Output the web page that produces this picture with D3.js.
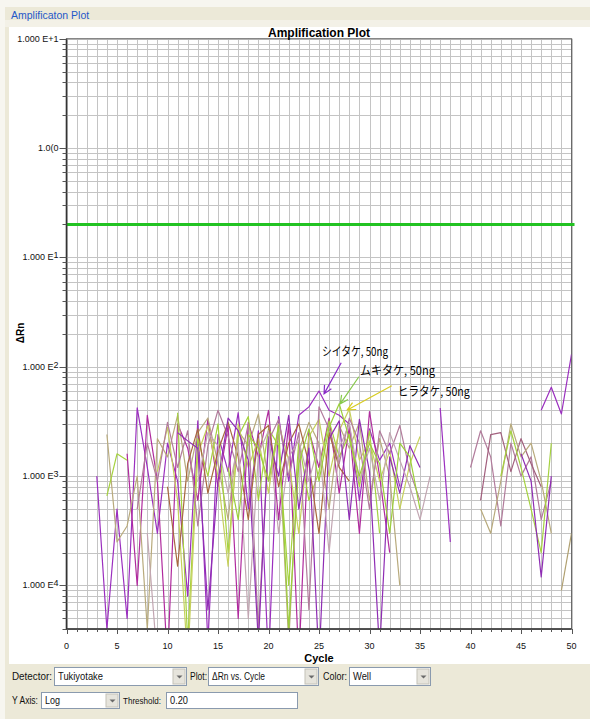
<!DOCTYPE html>
<html>
<head>
<meta charset="utf-8">
<script src="https://cdn.jsdelivr.net/npm/d3@7"></script>
<style>
	body { margin: 0; background: #fff; }
	svg { display: block; font-family: "Liberation Sans", Arial, sans-serif; }
</style>
</head>
<body>
<svg id="chart" width="590" height="719"></svg>
<script>
// Tick labels as the instrument software printed them
	var yTickValues = [10, 1, 0.1, 0.01, 0.001, 0.0001];
	var yTickMantissa = ['1.000 E+1', '1.0(0', '1.000 E', '1.000 E', '1.000 E', '1.000 E'];
	var yTickExponent = ['', '', '1', '2', '3', '4'];
	var cycleLabels = [0, 5, 10, 15, 20, 25, 30, 35, 40, 45, 50];
	var threshold = 0.20;

// Delta Rn per well, in units of 1e-3, starting at the given cycle (null = no point)
	var UNIT = 1e-3;
	var wellA = [1.0, 0.04, 0.5, 0.05, 4.2, 1.2, 0.3, 2.0, 0.9, 0.08, 3.2, 0.03, 2.4, 1.1, 3.8, 0.5, 2.6, 0.02, 3.5, 0.9, 3.6, 4.3, 6.0, 4.0, 3.6, 3.0, 0.6, 2.7, 1.4, 2.0, 0.8];
	var wellB = [1.6, 0.1, 3.6, 0.9, 0.02, 3.0, 1.8, 0.6, 3.3, 0.8, 2.9, 0.05, 3.1, 1.5, 4.0, 0.4, 3.0, 0.02, 2.6, 1.2, 3.4, 0.7, 2.8, 0.3, 3.9, 1.0, 0.2];
	var wellC = [2.4, 0.25, 0.35, 1.0, 0.04, 2.2, 1.5, 3.6, 0.9, 2.5, 3.4, 1.3, 0.4, 2.6, 1.9, 3.7, 0.9, 2.4, 0.03, 1.7, 3.1, 2.0, 0.5, 2.9, 1.8, 3.1, 0.6, 2.2, 1.0, 0.1];
	var wellD = [0.66, 1.6, 1.4, null, null, null, null, 3.8, 0.03, 2.2, 1.0, 3.0, 0.2, 2.3, 3.5, 0.6, 2.7, 1.9, 0.1, 2.1, 0.6, 1.1, 3.2, 1.5, 2.4, 0.8, 2.6, 0.3];
	var wellE = [1.1, 2.8, 0.6, 0.02, 1.6, 2.9, 1.0, 0.15, 3.0, 1.2, 2.2, 0.7, 3.0, 1.4, 0.3, 2.3, 3.3, 1.0, 2.6, 4.1, 1.4, 2.1, 0.9, 1.7, 0.5, 1.3, 2.3];
	var wellF = [0.5, 2.0, 0.9, 3.1, 1.2, 2.6, 0.35, 1.9, 4.0, 2.3, 1.1, 3.0, 0.04, 2.1, 3.3, 1.0, 2.5, 0.06, 4.3, 2.7, 1.3, 3.4, 2.0, 0.5, 2.6, 1.6, 2.9, 1.1, 0.6];
	var wellG = [0.8, 0.15, 1.3, 2.7, 0.7, 1.7, 3.1, 1.5, 0.4, 2.4, 2.9, 0.8, 2.0, 3.0, 1.3, 0.3, 2.5, 1.2, 0.9];
	var wellH = [2.5, 2.1, 1.8, 0.06, 0.9, 3.4, 2.6, 1.4, 0.03, 2.3, 1.0, 3.6, 0.5, 1.8, 0.02, 2.2, 3.2, 0.4, 3.3, 1.1, 0.025, 1.5, 0.7, 1.9, 1.2];
	var wellI = [0.3, 0.02, null, null, null, 0.9, 2.5, 1.9, 0.7, 2.0, 0.05, 1.6, 2.6, 0.3, 1.5, 2.1, 0.9, 2.0, 0.2, 1.8, 3.0, 0.9, 1.8, 0.6, 2.5, 1.4, 0.8, 0.4, 1.0];
	var wellJ = [1.2, 0.4, 2.4, 1.8, 0.9, 2.9, 0.04, 1.3, 2.7, 0.9, 2.8, 4.6, 2.2, 1.0, 2.0, 1.3, 0.3, 2.0, 1.5, 0.5];
	var wellK = [4.2, 0.25];
	var wellR1 = [1.2, 2.6, 1.5, 0.35, 2.0, 1.0, 1.5, 0.4, 0.9];
	var wellR2 = [0.6, 2.4, 2.5, 1.1, 2.2, 1.3, 0.8];
	var wellR3 = [0.5, 0.3, 0.9, 3.0, 1.5, 2.0, 0.9, 0.3];
	var wellR4 = [1.0, 2.6, 1.2, 0.5, 0.2, 2.0];
	var wellR5 = [1.6, 0.9, 0.12, 1.0];
	var wellR6 = [4.0, 6.5, 3.7, 13.0];
	var wellR7 = [0.09, 0.3];

	var wellStarts = [3, 6, 4, 4, 9, 7, 10, 11, 8, 16, 37, 40, 41, 41, 43, 45, 47, 49];
	var wellColors = ['#9b2fbf', '#b02a9e', '#b8aa7c', '#a5d23f', '#c6d05c', '#b27c9c', '#a8683f', '#8f2db4', '#c2a6b2',
		'#9ccf3a', '#9b2fbf', '#b27c9c', '#a2607e', '#b8aa7c', '#a5d23f', '#8f2db4', '#9b2fbf', '#b0a070'];
	var wellValues = [wellA, wellB, wellC, wellD, wellE, wellF, wellG, wellH, wellI, wellJ, wellK,
		wellR1, wellR2, wellR3, wellR4, wellR5, wellR6, wellR7];

// Sample callouts (text anchor and arrow, in cycle / milli-Rn)
	var noteTexts = ['シイタケ, 50ng', 'ムキタケ, 50ng', 'ヒラタケ, 50ng'];
	var noteColors = ['#8a2cc8', '#86c94a', '#d8cc20'];
	var noteWidths = [66, 75, 72];
	var noteAt = [[25.3, 13.7], [29.05, 9.2], [32.8, 5.9]];
	var arrowFrom = [[27.2, 10.9], [28.95, 8.1], [32.2, 6.7]];
	var arrowTo = [[25.5, 5.65], [27.1, 4.58], [27.8, 4.03]];

	var svg = d3.select('#chart');

// Window chrome
	svg.append('rect').attr('width', 590).attr('height', 719).attr('fill', '#ece9d8');
	svg.append('rect').attr('width', 590).attr('height', 7).attr('fill', '#f7f6f0');
	svg.append('rect').attr('width', 5).attr('height', 719).attr('fill', '#f7f6f0');
	svg.append('rect').attr('x', 5).attr('y', 20).attr('width', 585).attr('height', 7).attr('fill', '#f3f1e7');
	svg.append('text').attr('x', 11).attr('y', 18.5).attr('font-size', 10.5).attr('fill', '#2458c8').text('Amplificaton Plot');
	svg.append('rect').attr('x', 9).attr('y', 27).attr('width', 581).attr('height', 637).attr('fill', '#fff');

// Scales
	var x = d3.scaleLinear().domain([0, 50]).range([66.5, 571.5]);
	var y = d3.scaleLog().domain([4e-5, 10]).range([629, 38.7]);

// Grid
	var grid = svg.append('g').attr('stroke', '#c4c4c4').attr('stroke-width', 1);
	grid.selectAll('line.h')
	.data(y.ticks())
	.join('line')
		.attr('class', 'h')
		.attr('x1', x(0)).attr('x2', x(50))
		.attr('y1', d => Math.round(y(d)) + 0.5).attr('y2', d => Math.round(y(d)) + 0.5);
	grid.selectAll('line.v')
	.data(x.ticks(50))
	.join('line')
		.attr('class', 'v')
		.attr('x1', d => Math.round(x(d)) + 0.5).attr('x2', d => Math.round(x(d)) + 0.5)
		.attr('y1', y.range()[1]).attr('y2', y.range()[0]);

// Frame
	svg.append('rect')
		.attr('x', x(0)).attr('y', y.range()[1])
		.attr('width', x(50) - x(0)).attr('height', y.range()[0] - y.range()[1])
		.attr('fill', 'none').attr('stroke', '#6a6a6a').attr('stroke-width', 1);

// Wells
	svg.append('clipPath').attr('id', 'plotClip')
		.append('rect')
		.attr('x', x(0)).attr('y', y.range()[1])
		.attr('width', x(50) - x(0)).attr('height', y.range()[0] - y.range()[1]);

	var wells = wellValues.map((vals, i) => ({
		color: wellColors[i],
		points: vals.map((v, j) => ({ cycle: wellStarts[i] + j, value: v === null ? null : v * UNIT }))
	}));

	var line = d3.line()
		.defined(d => d.value !== null)
		.x(d => x(d.cycle))
		.y(d => y(d.value));

	svg.append('g').attr('clip-path', 'url(#plotClip)')
	.selectAll('path')
	.data(wells)
	.join('path')
		.attr('fill', 'none')
		.attr('stroke', d => d.color)
		.attr('stroke-width', 1.2)
		.attr('stroke-linejoin', 'round')
		.attr('d', d => line(d.points));

// Threshold
	svg.append('line')
		.attr('x1', x(0)).attr('x2', x(50) + 3)
		.attr('y1', y(threshold)).attr('y2', y(threshold))
		.attr('stroke', '#22c322').attr('stroke-width', 3);

// Axes lines
	svg.append('line').attr('x1', x(0)).attr('x2', x(0)).attr('y1', y.range()[1]).attr('y2', y.range()[0] + 1)
		.attr('stroke', '#333').attr('stroke-width', 1.6);
	svg.append('line').attr('x1', x(0)).attr('x2', x(50)).attr('y1', y.range()[0]).attr('y2', y.range()[0])
		.attr('stroke', '#333').attr('stroke-width', 1.6);

// Y ticks and labels
	svg.append('g').attr('stroke', '#555').selectAll('line')
	.data(y.ticks())
	.join('line')
		.attr('x1', d => yTickValues.indexOf(d) >= 0 ? x(0) - 7 : x(0) - 4).attr('x2', x(0))
		.attr('y1', d => Math.round(y(d)) + 0.5).attr('y2', d => Math.round(y(d)) + 0.5);

	var yLabels = svg.append('g').attr('font-size', 9).attr('fill', '#111').attr('text-anchor', 'end')
	.selectAll('text')
	.data(yTickValues)
	.join('text')
		.attr('x', x(0) - 8)
		.attr('y', d => y(d) + 3);
	yLabels.append('tspan').text((d, i) => yTickMantissa[i]);
	yLabels.append('tspan').attr('dy', -2).text((d, i) => yTickExponent[i]);

// X ticks and labels
	svg.append('g').attr('stroke', '#555').selectAll('line')
	.data(x.ticks(50))
	.join('line')
		.attr('x1', d => Math.round(x(d)) + 0.5).attr('x2', d => Math.round(x(d)) + 0.5)
		.attr('y1', y.range()[0]).attr('y2', d => y.range()[0] + (d % 5 === 0 ? 5 : 3));

	svg.append('g').attr('font-size', 9).attr('fill', '#111').attr('text-anchor', 'middle')
	.selectAll('text')
	.data(cycleLabels)
	.join('text')
		.attr('x', d => x(d))
		.attr('y', 649)
		.text(d => d);

// Titles
	svg.append('text').attr('x', (x(0) + x(50)) / 2).attr('y', 36.5)
		.attr('text-anchor', 'middle').attr('font-size', 12).attr('font-weight', 'bold').text('Amplification Plot');
	svg.append('text').attr('x', (x(0) + x(50)) / 2).attr('y', 662)
		.attr('text-anchor', 'middle').attr('font-size', 11).attr('font-weight', 'bold').text('Cycle');
	svg.append('text').attr('transform', 'translate(24,333) rotate(-90)')
		.attr('text-anchor', 'middle').attr('font-size', 10).attr('font-weight', 'bold').text('ΔRn');

// Callouts
	var notes = svg.append('g');
	noteTexts.forEach((t, i) => {
		notes.append('text')
			.attr('x', x(noteAt[i][0])).attr('y', y(noteAt[i][1] * UNIT) + 4.5)
			.attr('font-family', '"Noto Sans CJK JP", sans-serif').attr('font-size', 12).attr('fill', '#000')
			.attr('textLength', noteWidths[i]).attr('lengthAdjust', 'spacingAndGlyphs')
			.text(t);
		var x1 = x(arrowFrom[i][0]), y1 = y(arrowFrom[i][1] * UNIT);
		var x2 = x(arrowTo[i][0]), y2 = y(arrowTo[i][1] * UNIT);
		var ang = Math.atan2(y2 - y1, x2 - x1);
		var head = [ang + Math.PI - 0.45, ang + Math.PI + 0.45].map(a => [x2 + 9 * Math.cos(a), y2 + 9 * Math.sin(a)]);
		notes.append('path')
			.attr('d', 'M' + x1 + ',' + y1 + 'L' + x2 + ',' + y2 + 'M' + head[0] + 'L' + x2 + ',' + y2 + 'L' + head[1])
			.attr('fill', 'none').attr('stroke', noteColors[i]).attr('stroke-width', 1.2);
	});

// Control strip
	var ctl = svg.append('g').attr('font-size', 10).attr('fill', '#111');

	function fitText(px, py, text, w, size) {
		ctl.append('text').attr('x', px).attr('y', py).attr('font-size', size || 10)
			.attr('textLength', w).attr('lengthAdjust', 'spacingAndGlyphs').text(text);
	}

	function combo(px, py, w, h, text, tw, button) {
		ctl.append('rect').attr('x', px + 0.5).attr('y', py + 0.5).attr('width', w).attr('height', h)
			.attr('fill', '#fff').attr('stroke', '#8a9aae');
		fitText(px + 4, py + h / 2 + 4, text, tw);
		if (button) {
			ctl.append('rect').attr('x', px + w - 13).attr('y', py + 2).attr('width', 12).attr('height', h - 3)
				.attr('fill', '#e6e4dc').attr('stroke', '#c4c2b8');
			var cx = px + w - 6.5, cy = py + h / 2 + 1;
			ctl.append('path').attr('d', 'M' + (cx - 3) + ',' + (cy - 1.5) + 'L' + (cx + 3) + ',' + (cy - 1.5) + 'L' + cx + ',' + (cy + 1.5) + 'Z')
				.attr('fill', '#6a6a6a');
		}
	}

	combo(54, 667, 132, 18, 'Tukiyotake', 45, true);
	combo(208, 667, 110, 18, 'ΔRn vs. Cycle', 53, true);
	combo(349, 667, 81, 18, 'Well', 18, true);
	combo(41, 692, 78, 16, 'Log', 15, true);
	combo(166, 692, 131, 16, '0.20', 18, false);
	fitText(12, 680, 'Detector:', 40);
	fitText(190, 680, 'Plot:', 17);
	fitText(323, 680, 'Color:', 24);
	fitText(12, 704, 'Y Axis:', 26);
	fitText(123, 704, 'Threshold:', 38, 9);
</script>
</body>
</html>
